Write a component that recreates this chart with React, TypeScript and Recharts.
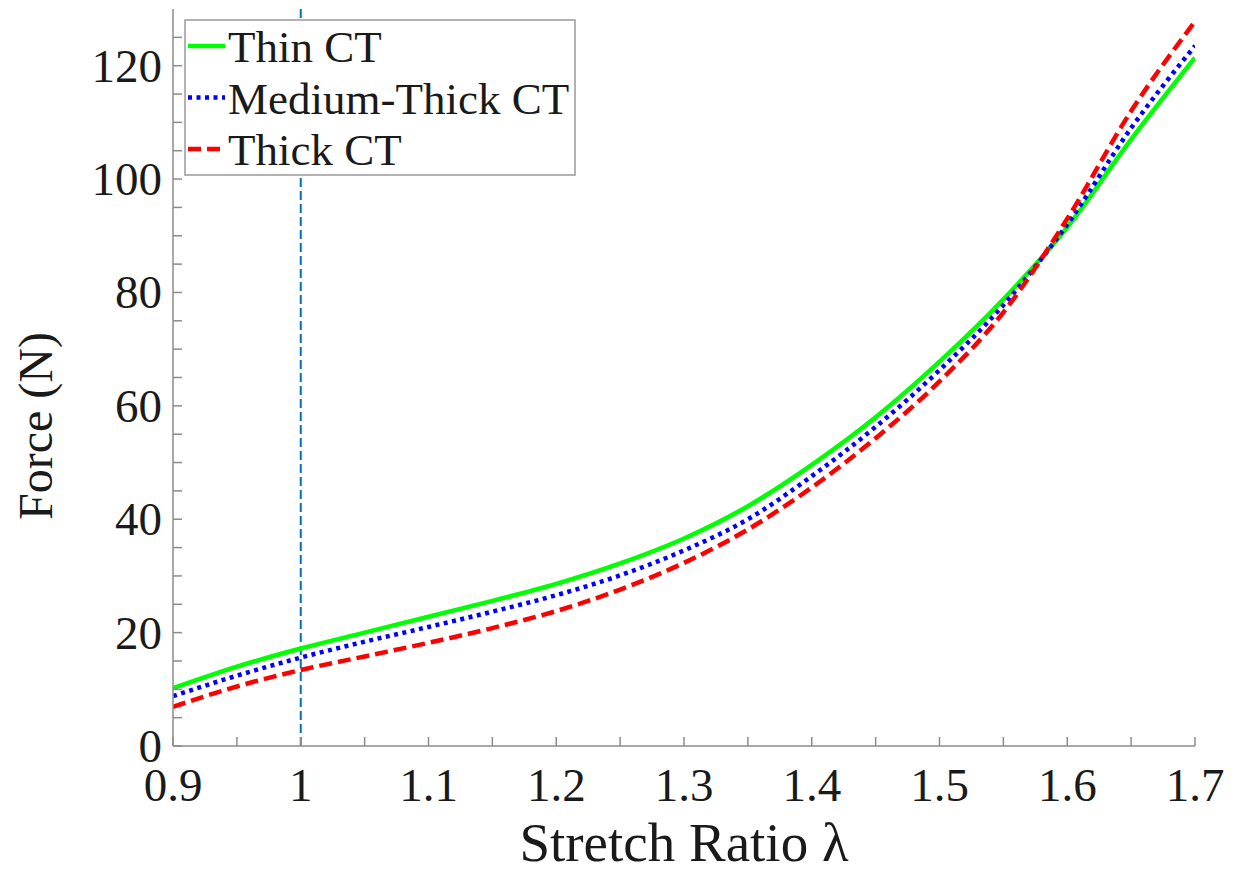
import { LineChart, Line, XAxis, YAxis, ReferenceLine, Legend, Label } from "recharts";

// stretch ratio samples
const lambdas = [0.9, 0.95, 1.0, 1.05, 1.1, 1.15, 1.2, 1.25, 1.3, 1.35, 1.4, 1.45, 1.5, 1.55, 1.6, 1.65, 1.7];

// force (N) per tissue thickness
const thinCT = [10.2, 14.0, 17.2, 20.0, 22.8, 25.6, 28.6, 32.2, 36.6, 42.3, 49.6, 58.0, 67.8, 78.8, 91.5, 107.0, 121.4];
const mediumCT = [8.8, 12.4, 15.6, 18.4, 21.0, 23.7, 26.6, 30.1, 34.5, 40.0, 47.6, 56.3, 66.3, 77.8, 92.0, 109.0, 123.5];
const thickCT = [6.9, 10.5, 13.4, 15.8, 18.2, 20.8, 23.8, 27.6, 32.3, 38.2, 45.6, 54.3, 64.3, 76.5, 93.0, 112.0, 127.8];

const xTicks = [0.9, 0.95, 1.0, 1.05, 1.1, 1.15, 1.2, 1.25, 1.3, 1.35, 1.4, 1.45, 1.5, 1.55, 1.6, 1.65, 1.7];
const yTicks = [0, 5, 10, 15, 20, 25, 30, 35, 40, 45, 50, 55, 60, 65, 70, 75, 80, 85, 90, 95, 100, 105, 110, 115, 120, 125];

const data = lambdas.map((l, i) => ({
  lambda: l,
  thin: thinCT[i],
  medium: mediumCT[i],
  thick: thickCT[i],
}));

const FONT = "'Liberation Serif', 'Times New Roman', serif";
const AXIS = "#8c8c8c";
const TXT = "#1a1a1a";

const series = [
  { key: "thin", name: "Thin CT", color: "#00ff00", dash: undefined as string | undefined },
  { key: "medium", name: "Medium-Thick CT", color: "#0000ff", dash: "4 4.5" },
  { key: "thick", name: "Thick CT", color: "#ff0000", dash: "13 6" },
];

const isMajorX = (v: number) => Math.abs(v * 10 - Math.round(v * 10)) < 1e-6;

const BottomTick = (props: any) => {
  const { x, y, payload } = props;
  const v = payload.value as number;
  return (
    <g>
      <line x1={x} y1={y} x2={x} y2={y - 9} stroke={AXIS} strokeWidth={1.5} />
      {isMajorX(v) && (
        <text x={x} y={y + 55} textAnchor="middle" fontFamily={FONT} fontSize={47} fill={TXT}>
          {String(Math.round(v * 10) / 10)}
        </text>
      )}
    </g>
  );
};

const TopTick = (props: any) => {
  const { x, y } = props;
  return <line x1={x} y1={y} x2={x} y2={y + 9} stroke={AXIS} strokeWidth={1.5} />;
};

const LeftTick = (props: any) => {
  const { x, y, payload } = props;
  const v = payload.value as number;
  return (
    <g>
      <line x1={x} y1={y} x2={x + 9} y2={y} stroke={AXIS} strokeWidth={1.5} />
      {v % 20 === 0 && (
        <text x={x - 11} y={y + 16} textAnchor="end" fontFamily={FONT} fontSize={47} fill={TXT}>
          {v}
        </text>
      )}
    </g>
  );
};

const RightTick = (props: any) => {
  const { x, y } = props;
  return <line x1={x} y1={y} x2={x - 9} y2={y} stroke={AXIS} strokeWidth={1.5} />;
};

const LegendBox = () => (
  <svg width={392} height={157} style={{ display: "block" }}>
    <rect x={1} y={1} width={390} height={155} fill="#fff" stroke="#999" strokeWidth={1.5} />
    {series.map((s, i) => {
      const cy = 27 + i * 51.5;
      return (
        <g key={s.key}>
          <line x1={4} y1={cy} x2={41} y2={cy} stroke={s.color} strokeWidth={4.5} strokeDasharray={s.dash} />
          <text x={44} y={cy + 16} fontFamily={FONT} fontSize={45} fill={TXT}>
            {s.name}
          </text>
        </g>
      );
    })}
  </svg>
);

export default function App() {
  return (
    <div style={{ position: "absolute", left: 0, top: 0, width: 1244, height: 878, background: "#fff" }}>
      <LineChart width={1244} height={878} data={data} margin={{ top: 9, right: 49, bottom: 0, left: 0 }}>
        <XAxis
          dataKey="lambda"
          type="number"
          domain={[0.9, 1.7]}
          allowDataOverflow
          ticks={xTicks}
          interval={0}
          height={132}
          tickSize={0}
          tickMargin={0}
          tickLine={false}
          axisLine={{ stroke: AXIS, strokeWidth: 1.5 }}
          tick={<BottomTick />}
        >
          <Label
            content={(p: any) => {
              const vb = p.viewBox;
              return (
                <text x={vb.x + vb.width / 2} y={vb.y + 115} textAnchor="middle" fontFamily={FONT} fontSize={55} fill={TXT}>
                  Stretch Ratio λ
                </text>
              );
            }}
          />
        </XAxis>
        <XAxis
          xAxisId="top"
          orientation="top"
          dataKey="lambda"
          type="number"
          domain={[0.9, 1.7]}
          allowDataOverflow
          ticks={xTicks}
          interval={0}
          height={0}
          tickSize={0}
          tickMargin={0}
          tickLine={false}
          axisLine={{ stroke: AXIS, strokeWidth: 1.5 }}
          tick={<TopTick />}
        />
        <YAxis
          type="number"
          domain={[0, 130]}
          allowDataOverflow
          ticks={yTicks}
          interval={0}
          width={173}
          tickSize={0}
          tickMargin={0}
          tickLine={false}
          axisLine={{ stroke: AXIS, strokeWidth: 1.5 }}
          tick={<LeftTick />}
        >
          <Label
            content={() => (
              <text
                x={0}
                y={0}
                transform="translate(52, 426) rotate(-90)"
                textAnchor="middle"
                fontFamily={FONT}
                fontSize={48}
                fill={TXT}
              >
                Force (N)
              </text>
            )}
          />
        </YAxis>
        <YAxis
          yAxisId="right"
          orientation="right"
          type="number"
          domain={[0, 130]}
          allowDataOverflow
          ticks={yTicks}
          interval={0}
          width={0}
          tickSize={0}
          tickMargin={0}
          tickLine={false}
          axisLine={{ stroke: AXIS, strokeWidth: 1.5 }}
          tick={<RightTick />}
        />
        <ReferenceLine x={1} stroke="#0072bd" strokeWidth={2} strokeDasharray="9 4" />
        {series.map((s) => (
          <Line
            key={s.key}
            type="monotone"
            dataKey={s.key}
            name={s.name}
            stroke={s.color}
            strokeWidth={4.5}
            strokeDasharray={s.dash}
            dot={false}
            activeDot={false}
            isAnimationActive={false}
          />
        ))}
        <Legend
          layout="vertical"
          align="center"
          verticalAlign="middle"
          wrapperStyle={{ position: "absolute", left: 184, top: 19, width: 392, height: 157 }}
          content={() => <LegendBox />}
        />
      </LineChart>
    </div>
  );
}
